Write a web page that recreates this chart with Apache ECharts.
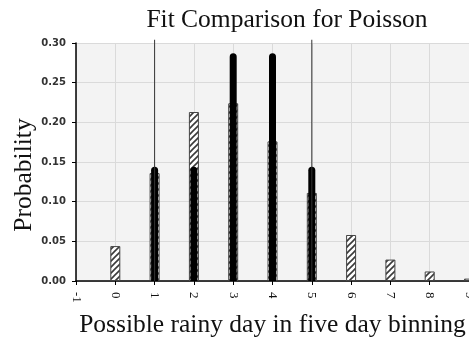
<!DOCTYPE html>
<html><head><meta charset="utf-8">
<script src="https://cdn.jsdelivr.net/npm/echarts@6/dist/echarts.min.js"></script>
<style>html,body{margin:0;padding:0;background:#fff}#c{width:469px;height:338px}</style>
</head><body><div id="c"></div>
<script>
const xTicks = [-1,0,1,2,3,4,5,6,7,8,9];
const yTicks = [0,0.05,0.10,0.15,0.20,0.25,0.30];
const observedX = [0,1,2,3,4,5,6,7,8,9];
const observedP = [0.044,0.136,0.213,0.224,0.176,0.111,0.058,0.027,0.012,0.003];
const fitX = [1,2,3,4,5];
const fitP = [0.144,0.144,0.287,0.287,0.144];
const boundX = [1,5];
const boundP = [0.304,0.304];

// diagonal hatch pattern
const pc = document.createElement('canvas');
pc.width = 6; pc.height = 6;
const g = pc.getContext('2d');
g.fillStyle = '#ffffff'; g.fillRect(0,0,6,6);
g.strokeStyle = '#3a3a3a'; g.lineWidth = 1.6;
g.beginPath();
g.moveTo(-1,7); g.lineTo(7,-1);
g.moveTo(-4,4); g.lineTo(4,-4);
g.moveTo(2,10); g.lineTo(10,2);
g.stroke();

const serif = '"Liberation Serif", "Times New Roman", serif';
const chart = echarts.init(document.getElementById('c'), null, {renderer:'canvas'});
const xBase = {type:'value', min:-1, max:9, interval:1};
chart.setOption({
  animation:false,
  backgroundColor:'#ffffff',
  title:{text:'Fit Comparison for Poisson', left:282, textAlign:'center', top:2,
    textStyle:{fontFamily:serif, fontSize:25.5, fontWeight:'normal', color:'#111'}},
  graphic:[{type:'text', x:24, y:175, rotation:Math.PI/2,
    style:{text:'Probability', fontFamily:serif, fontSize:25.5, fill:'#111',
      textAlign:'center', textVerticalAlign:'middle'}}],
  grid:{left:76, right:0, top:43, bottom:57, show:true, backgroundColor:'#f3f3f3', borderWidth:0,
    containLabel:false, outerBoundsMode:'none'},
  xAxis:[
    Object.assign({}, xBase, {
      name:'Possible rainy day in five day binning', nameLocation:'middle', nameGap:31,
      nameTextStyle:{fontFamily:serif, fontSize:25.5, color:'#111'},
      axisLine:{show:true, onZero:false, lineStyle:{color:'#000', width:1.5}},
      axisTick:{show:true, length:4, lineStyle:{color:'#000'}},
      axisLabel:{rotate:-90, fontFamily:serif, fontSize:13, color:'#111', margin:11,
        showMinLabel:true, showMaxLabel:true,
        formatter: v => xTicks.includes(v) ? String(v) : ''},
      splitLine:{show:true, lineStyle:{color:'#dadada', width:1}}
    }),
    Object.assign({}, xBase, {show:false}),
    Object.assign({}, xBase, {show:false})
  ],
  yAxis:{type:'value', min:0, max:0.30, interval:0.05,
    axisLine:{show:true, onZero:false, lineStyle:{color:'#000', width:1.5}},
    axisTick:{show:true, length:4, lineStyle:{color:'#000'}},
    axisLabel:{fontFamily:'"DejaVu Sans", sans-serif', fontWeight:'bold', fontSize:10, color:'#333', margin:10,
      formatter: v => v.toFixed(2)},
    splitLine:{show:true, lineStyle:{color:'#dadada', width:1}}
  },
  series:[
    {type:'bar', xAxisIndex:0, barWidth:10,
      data: observedX.map((x,i)=>[x, observedP[i]]),
      itemStyle:{color:{image:pc, repeat:'repeat'}, borderColor:'#444', borderWidth:1}},
    {type:'bar', xAxisIndex:1, barWidth:7,
      data: fitX.map((x,i)=>[x, fitP[i]]),
      itemStyle:{color:'#000', borderRadius:[3.5,3.5,0,0]}},
    {type:'bar', xAxisIndex:2, barWidth:1, clip:false,
      data: boundX.map((x,i)=>[x, boundP[i]]),
      itemStyle:{color:'#333'}}
  ]
});
</script></body></html>
